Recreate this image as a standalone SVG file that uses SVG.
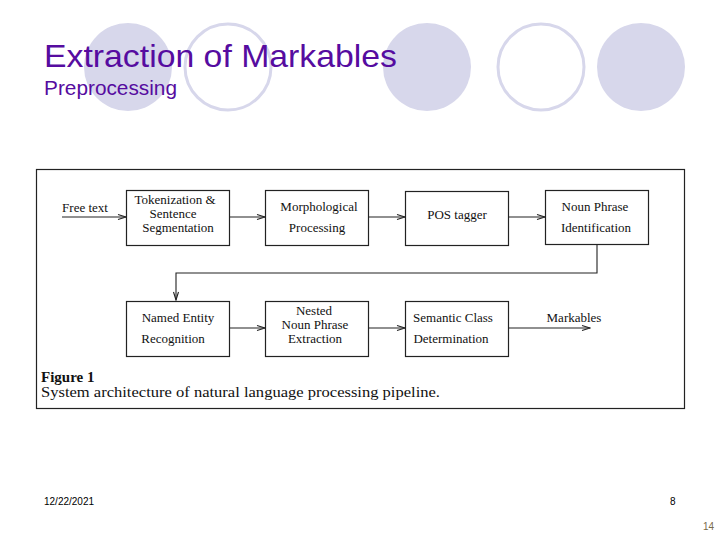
<svg xmlns="http://www.w3.org/2000/svg" width="720" height="540" viewBox="0 0 720 540">
<style>
.fc{fill:#d7d7eb;stroke:none}
.oc{fill:none;stroke:#d7d7eb;stroke-width:3}
.ttl{font-family:"Liberation Sans",Arial,sans-serif;fill:#560ca0}
.box{fill:#fff;stroke:#222;stroke-width:1.2}
.t{font-family:"Liberation Serif","Times New Roman",serif;font-size:13px;fill:#111;text-anchor:middle}
.ln{fill:none;stroke:#222;stroke-width:1.1}
.ft{font-family:"Liberation Sans",Arial,sans-serif;font-size:10px;fill:#000}
</style>
<defs>
<marker id="ah" markerWidth="10" markerHeight="8" refX="9" refY="4" orient="auto" markerUnits="userSpaceOnUse">
<path d="M1,1.5 L9,4 L1,6.5" fill="none" stroke="#222" stroke-width="1.1"/>
</marker>
</defs>
<rect width="720" height="540" fill="#fff"/>
<g id="decor">
<circle class="fc" cx="128" cy="67" r="44"/>
<circle class="oc" cx="228" cy="67" r="43"/>
<circle class="fc" cx="427" cy="67" r="44"/>
<circle class="oc" cx="541" cy="67" r="43"/>
<circle class="fc" cx="641" cy="67" r="44"/>
</g>
<text class="ttl" x="44" y="67" font-size="32" textLength="353" lengthAdjust="spacingAndGlyphs">Extraction of Markables</text>
<text class="ttl" x="44" y="95" font-size="20" textLength="133" lengthAdjust="spacingAndGlyphs">Preprocessing</text>
<rect x="36.5" y="169.5" width="648" height="239" fill="#fff" stroke="#222" stroke-width="1.2"/>
<g id="connectors">
<line class="ln" x1="62" y1="217" x2="126" y2="217" marker-end="url(#ah)"/>
<line class="ln" x1="229" y1="217" x2="265" y2="217" marker-end="url(#ah)"/>
<line class="ln" x1="369" y1="217" x2="405" y2="217" marker-end="url(#ah)"/>
<line class="ln" x1="508" y1="217" x2="545" y2="217" marker-end="url(#ah)"/>
<polyline class="ln" points="597,245 597,273 176,273 176,300" marker-end="url(#ah)"/>
<line class="ln" x1="229" y1="328" x2="265" y2="328" marker-end="url(#ah)"/>
<line class="ln" x1="369" y1="328" x2="405" y2="328" marker-end="url(#ah)"/>
<line class="ln" x1="508" y1="328" x2="590" y2="328" marker-end="url(#ah)"/>
</g>
<text class="t" x="85" y="212">Free text</text>
<text class="t" x="574" y="322">Markables</text>
<g id="n1"><rect class="box" x="126.5" y="190.5" width="103" height="55"/>
<text class="t" x="175" y="204">Tokenization &amp;</text><text class="t" x="173" y="218">Sentence</text><text class="t" x="178" y="232">Segmentation</text></g>
<g id="n2"><rect class="box" x="265.5" y="190.5" width="103" height="55"/>
<text class="t" x="319" y="211">Morphological</text><text class="t" x="317" y="232">Processing</text></g>
<g id="n3"><rect class="box" x="405.5" y="191.5" width="103" height="54"/>
<text class="t" x="457" y="219">POS tagger</text></g>
<g id="n4"><rect class="box" x="545.5" y="190.5" width="103" height="54"/>
<text class="t" x="595" y="211">Noun Phrase</text><text class="t" x="596" y="232">Identification</text></g>
<g id="n5"><rect class="box" x="126.5" y="301.5" width="103" height="55"/>
<text class="t" x="178" y="322">Named Entity</text><text class="t" x="173" y="343">Recognition</text></g>
<g id="n6"><rect class="box" x="265.5" y="301.5" width="103" height="55"/>
<text class="t" x="314" y="315">Nested</text><text class="t" x="315" y="329">Noun Phrase</text><text class="t" x="315" y="343">Extraction</text></g>
<g id="n7"><rect class="box" x="405.5" y="301.5" width="103" height="55"/>
<text class="t" x="453" y="322">Semantic Class</text><text class="t" x="451" y="343">Determination</text></g>
<text x="41" y="382" font-family="'Liberation Serif','Times New Roman',serif" font-size="15" font-weight="bold" fill="#111">Figure 1</text>
<text x="41" y="397" font-family="'Liberation Serif','Times New Roman',serif" font-size="14" fill="#111" textLength="399" lengthAdjust="spacingAndGlyphs">System architecture of natural language processing pipeline.</text>
<text class="ft" x="44" y="505">12/22/2021</text>
<text class="ft" x="670" y="505">8</text>
<text class="ft" x="703" y="530" style="fill:#7a6a4a">14</text>
</svg>
